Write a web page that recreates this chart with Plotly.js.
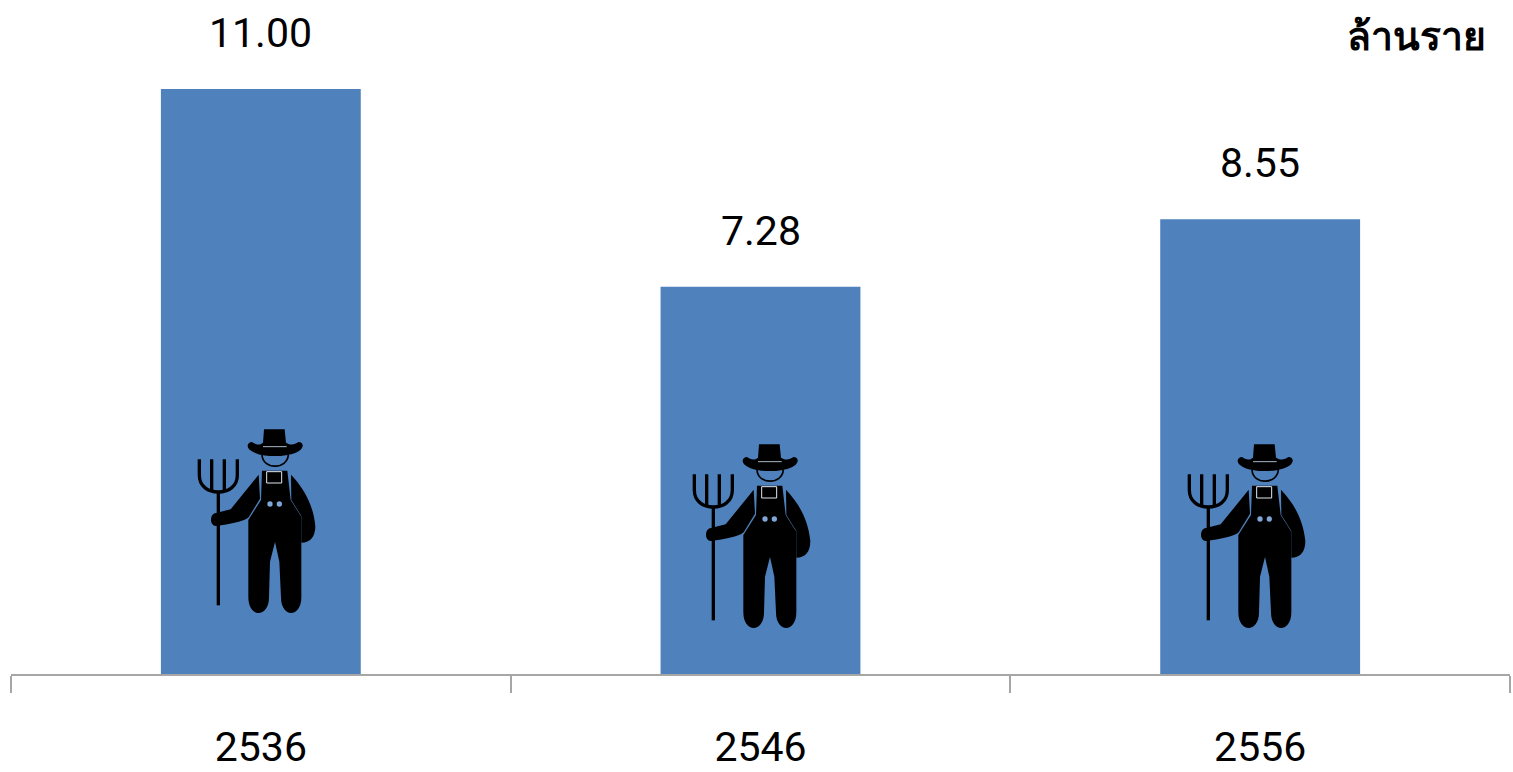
<!DOCTYPE html>
<html><head><meta charset="utf-8">
<script src="https://cdn.plot.ly/plotly-3.0.1.min.js"></script>
<style>html,body{margin:0;padding:0;background:#fff;overflow:hidden}#c{width:1513px;height:772px}</style>
</head><body><div id="c"></div>
<script>
const years = ['2536','2546','2556'];
const farmers = [11.00,7.28,8.55];
const valueLabels = ['11.00','7.28','8.55'];
const unitLabel = 'ล้านราย';
const FONT = 'Roboto,"Noto Sans","DejaVu Sans",sans-serif';

const svg = `<svg xmlns="http://www.w3.org/2000/svg" viewBox="0 0 450 600" width="900" height="1200">
<g fill="#000" stroke="none">
<path d="M252 28L314 28L318 68C335 78 345 72 355 66C370 66 372 80 362 89C340 106 305 108 285 108C262 108 230 106 209 89C198 80 203 66 216 66C226 72 236 78 249 68Z"/>
<path d="M249 80H320" stroke="#a8b8c8" stroke-width="3"/>
<path d="M246 104C248 150 322 150 325 104" fill="none" stroke="#000" stroke-width="5"/>
<path d="M246 152H322L332 240L364 290V532C364 595 303 595 303 532L298 425L285 366L270 425L267 532C267 595 205 595 205 532V300L243 240Z"/>
<path d="M260 155H305V189H260Z" stroke="#dfe8f2" stroke-width="3"/>
<path d="M236 164L240 236L206 292C190 306 150 312 108 318C88 318 88 281 108 279L152 268Z"/>
<path d="M333 164C372 205 400 255 406 318C406 350 392 368 364 368V288L334 240Z"/>
<path d="M115 215V556" stroke="#000" stroke-width="10" fill="none"/>
<path d="M58 118V165C58 200 85 216 115 216C145 216 172 200 172 165V118" stroke="#000" stroke-width="10" fill="none"/>
<path d="M95 118V216M133 118V216" stroke="#000" stroke-width="10" fill="none"/>
</g>
<circle cx="270" cy="252" r="8" fill="#7fa6d6"/><circle cx="298" cy="252" r="8" fill="#7fa6d6"/>
</svg>`;
const src = 'data:image/svg+xml;charset=utf-8,' + encodeURIComponent(svg);

const W=1513,H=772,L=11,R=3,T=89,B=98;
const pw=W-L-R, ph=H-T-B;
const iconLeft=[180,675,1170], iconTop=[420,435,435];
const images = iconLeft.map((x,i)=>({source:src,xref:'paper',yref:'paper',
  x:(x-L)/pw, y:(H-B-iconTop[i])/ph, sizex:150/pw, sizey:200/ph,
  xanchor:'left',yanchor:'top',sizing:'stretch',layer:'above'}));

const annotations = years.map((y,i)=>({x:i,y:farmers[i],xref:'x',yref:'y',text:valueLabels[i],
  showarrow:false,yanchor:'bottom',xanchor:'center',yshift:30,font:{family:FONT,size:41,color:'#000'}}));
annotations.push({xref:'paper',yref:'paper',x:(1488-L)/pw,y:1,xanchor:'right',yanchor:'bottom',yshift:26,
  text:unitLabel,showarrow:false,font:{family:'"Noto Sans","DejaVu Sans",sans-serif',size:39,color:'#000',weight:700}});

Plotly.newPlot('c',[{type:'bar',x:years,y:farmers,marker:{color:'#4F81BD'},hoverinfo:'none',width:0.4}],{
  width:W,height:H,margin:{l:L,r:R,t:T,b:B,pad:0},paper_bgcolor:'#fff',plot_bgcolor:'#fff',showlegend:false,
  xaxis:{type:'category',categoryorder:'array',categoryarray:years,range:[-0.5,2.5],tickson:'boundaries',ticks:'outside',ticklen:17,tickwidth:2,tickcolor:'#A6A6A6',
    showline:true,linecolor:'#A6A6A6',linewidth:2,showgrid:false,zeroline:false,ticklabelstandoff:36,tickangle:0,
    tickfont:{family:FONT,size:41,color:'#000'}},
  yaxis:{range:[0,11],visible:false,showgrid:false,zeroline:false},
  annotations,images
},{displayModeBar:false,staticPlot:true});
</script></body></html>
